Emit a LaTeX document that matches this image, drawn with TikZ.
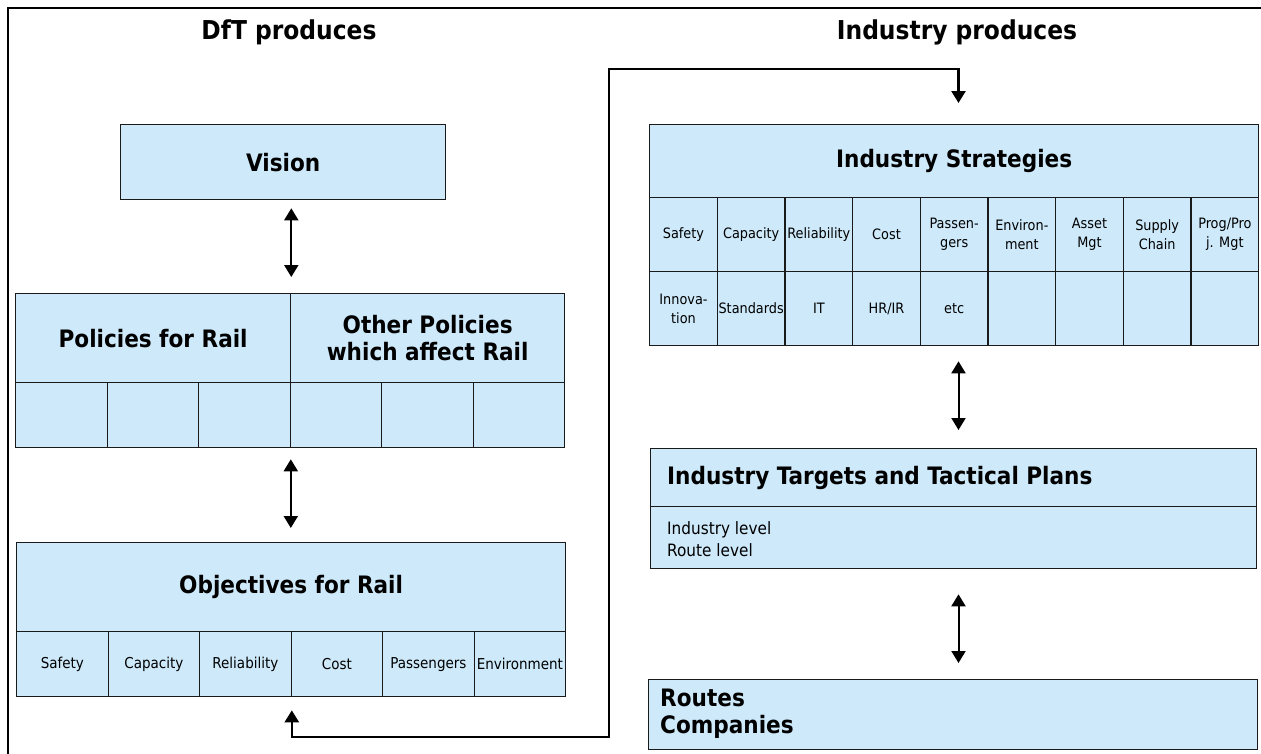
\documentclass[tikz,border=0pt]{standalone}
\usepackage{fontspec}
\setmainfont{DejaVu Sans Condensed}
\usetikzlibrary{arrows.meta,calc}
\definecolor{boxblue}{HTML}{CDE9FA}
\definecolor{edge}{HTML}{1A1A1A}
\begin{document}
\begin{tikzpicture}[x=1pt,y=-1pt,
  box/.style={draw=edge, fill=boxblue, line width=1.3pt, inner sep=2pt, align=center, anchor=north west},
  headtxt/.style={font=\bfseries\fontsize{26}{30}\selectfont},
  bigtxt/.style={font=\bfseries\fontsize{24}{27}\selectfont},
  celltxt/.style={font=\fontsize{15}{18}\selectfont},
  scelltxt/.style={font=\fontsize{14.3}{19}\selectfont},
  bodytxt/.style={font=\fontsize{17}{22}\selectfont},
  dbl/.style={line width=2pt, {Triangle[width=14pt,length=12pt]}-{Triangle[width=14pt,length=12pt]}},
  conn/.style={line width=2.5pt, line join=miter},
  frameline/.style={line width=2.8pt}
]
\useasboundingbox (0,0) rectangle (1261,753);
\fill[white] (0,0) rectangle (1261,753);

% frame
\draw[frameline] (8,755) -- (8,8) -- (1263,8);

% titles
\node[headtxt] (tdft) at (289,32) {DfT produces};
\node[headtxt] (tind) at (957,32) {Industry produces};

% Vision
\node[box, bigtxt, minimum width=325pt, minimum height=75pt] (vision) at (120,124) {Vision};

% Policies
\node[box, bigtxt, minimum width=275pt, minimum height=89pt] (polL) at (15,293) {Policies for Rail};
\node[box, bigtxt, minimum width=274pt, minimum height=89pt] (polR) at (290,293) {Other Policies\\which affect Rail};
\foreach \i in {0,...,5}{
  \node[box, minimum width=91.5pt, minimum height=65pt] (pc\i) at (15+91.5*\i,382) {};
}

% Objectives
\node[box, bigtxt, minimum width=549pt, minimum height=89pt] (obj) at (16,542) {Objectives for Rail};
\foreach \t [count=\i from 0] in {Safety,Capacity,Reliability,Cost,Passengers,Environment}{
  \node[box, celltxt, minimum width=91.5pt, minimum height=65pt, inner sep=0pt] (oc\i) at (16+91.5*\i,631) {\t};
}

% Industry Strategies
\node[box, bigtxt, minimum width=609pt, minimum height=73pt] (strat) at (649,124) {Industry Strategies};
\foreach \t [count=\i from 0] in {Safety,Capacity,Reliability,Cost,Passen-\\gers,Environ-\\ment,Asset\\Mgt,Supply\\Chain,Prog/Pro\\j. Mgt}{
  \node[box, scelltxt, minimum width=67.67pt, minimum height=74pt, inner sep=0pt] (sa\i) at (649+67.67*\i,197) {\t};
}
\foreach \t [count=\i from 0] in {Innova-\\tion,Standards,IT,HR/IR,etc,,,,}{
  \node[box, scelltxt, minimum width=67.67pt, minimum height=74pt, inner sep=0pt] (sb\i) at (649+67.67*\i,271) {\t};
}

% Industry Targets
\node[box, minimum width=606pt, minimum height=58pt] (targ) at (650,448) {};
\node[bigtxt, anchor=west, inner sep=0pt] (targt) at (667,478) {Industry Targets and Tactical Plans};
\node[box, minimum width=606pt, minimum height=62pt] (targb) at (650,506) {};
\node[bodytxt, anchor=west, align=left, inner sep=0pt] (targbt) at (667,539) {Industry level\\Route level};

% Routes
\node[box, minimum width=609pt, minimum height=70pt] (routes) at (648,679) {};
\node[bigtxt, anchor=west, align=left, inner sep=0pt] (routest) at (660,714) {Routes\\Companies};

% vertical double arrows
\coordinate (cx) at (958.5,0);
\draw[dbl, shorten <=8pt, shorten >=16pt] (vision.south -| polL.north east) -- (polL.north east);
\draw[dbl, shorten <=11pt, shorten >=14pt] (pc2.south east) -- (pc2.south east |- obj.north);
\draw[dbl, shorten <=15pt, shorten >=18pt] (sb0.south -| cx) -- (targ.north -| cx);
\draw[dbl, shorten <=25pt, shorten >=16pt] (targb.south -| cx) -- (routes.north -| cx);

% feedback connector
\coordinate (fbL) at (609,737);
\coordinate (fbT) at (609,69);
\draw[conn, {Triangle[width=14pt,length=12pt]}-{Triangle[width=14pt,length=12pt]}]
  ($(oc2.south east)+(0,13)$) |- (fbL) -- (fbT) -| ($(strat.north -| cx)+(0,-21)$);
\end{tikzpicture}
\end{document}
